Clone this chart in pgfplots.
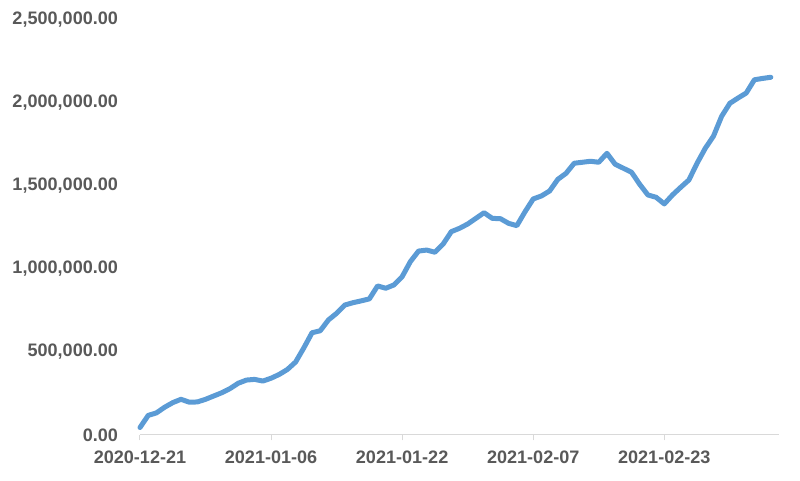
\documentclass[border=0pt]{standalone}
\usepackage{fontspec}
\setmainfont{Liberation Sans}
\usepackage{pgfplots}
\pgfplotsset{compat=1.18}
\definecolor{linec}{RGB}{91,155,213}
\definecolor{txt}{RGB}{89,89,89}
\definecolor{axc}{RGB}{217,217,217}
\begin{document}
\begin{tikzpicture}
\useasboundingbox (-105bp,-34.5bp) rectangle (495bp,326.25bp);
\begin{axis}[
  at={(0,0)}, anchor=south west,
  scale only axis, width=479.25bp, height=311.25bp,
  xmin=0, xmax=78, ymin=0, ymax=2500000,
  axis x line*=bottom, axis y line*=left,
  x axis line style={-, draw=axc, line width=0.75bp},
  y axis line style={draw=none},
  xtick={0,16,32,48,64},
  xticklabels={2020-12-21,2021-01-06,2021-01-22,2021-02-07,2021-02-23},
  ytick={0,500000,1000000,1500000,2000000,2500000},
  scaled y ticks=false,
  tick align=outside,
  major tick length=4bp,
  x tick style={draw=axc, line width=0.75bp},
  y tick style={draw=none},
  tick label style={font=\bfseries\fontsize{13.6}{16}\selectfont, text=txt},
  x tick label style={yshift=-4.5bp},
  y tick label style={xshift=-9bp, /pgf/number format/.cd, fixed, fixed zerofill, precision=2, 1000 sep={,}, assume math mode=true},
  /pgf/number format/assume math mode=true,
  clip=false,
]
\addplot[linec, line width=3.75bp, line join=round, line cap=round, mark=none] table {
x y
0 45000
1 118000
2 133000
3 167000
4 195000
5 215000
6 198000
7 199000
8 215000
9 235000
10 255000
11 280000
12 312000
13 331000
14 335000
15 325000
16 342000
17 365000
18 395000
19 440000
20 525000
21 616000
22 628000
23 693000
24 733000
25 783000
26 797000
27 808000
28 820000
29 898000
30 884000
31 904000
32 954000
33 1044000
34 1108000
35 1114000
36 1101000
37 1150000
38 1225000
39 1245000
40 1271000
41 1305000
42 1339000
43 1305000
44 1303000
45 1275000
46 1261000
47 1345000
48 1422000
49 1440000
50 1470000
51 1540000
52 1576000
53 1637000
54 1643000
55 1649000
56 1643000
57 1697000
58 1631000
59 1607000
60 1583000
61 1510000
62 1446000
63 1432000
64 1392000
65 1446000
66 1492000
67 1536000
68 1637000
69 1727000
70 1800000
71 1920000
72 1998000
73 2030000
74 2060000
75 2140000
76 2148000
77 2155000
};
\end{axis}
\end{tikzpicture}
\end{document}
